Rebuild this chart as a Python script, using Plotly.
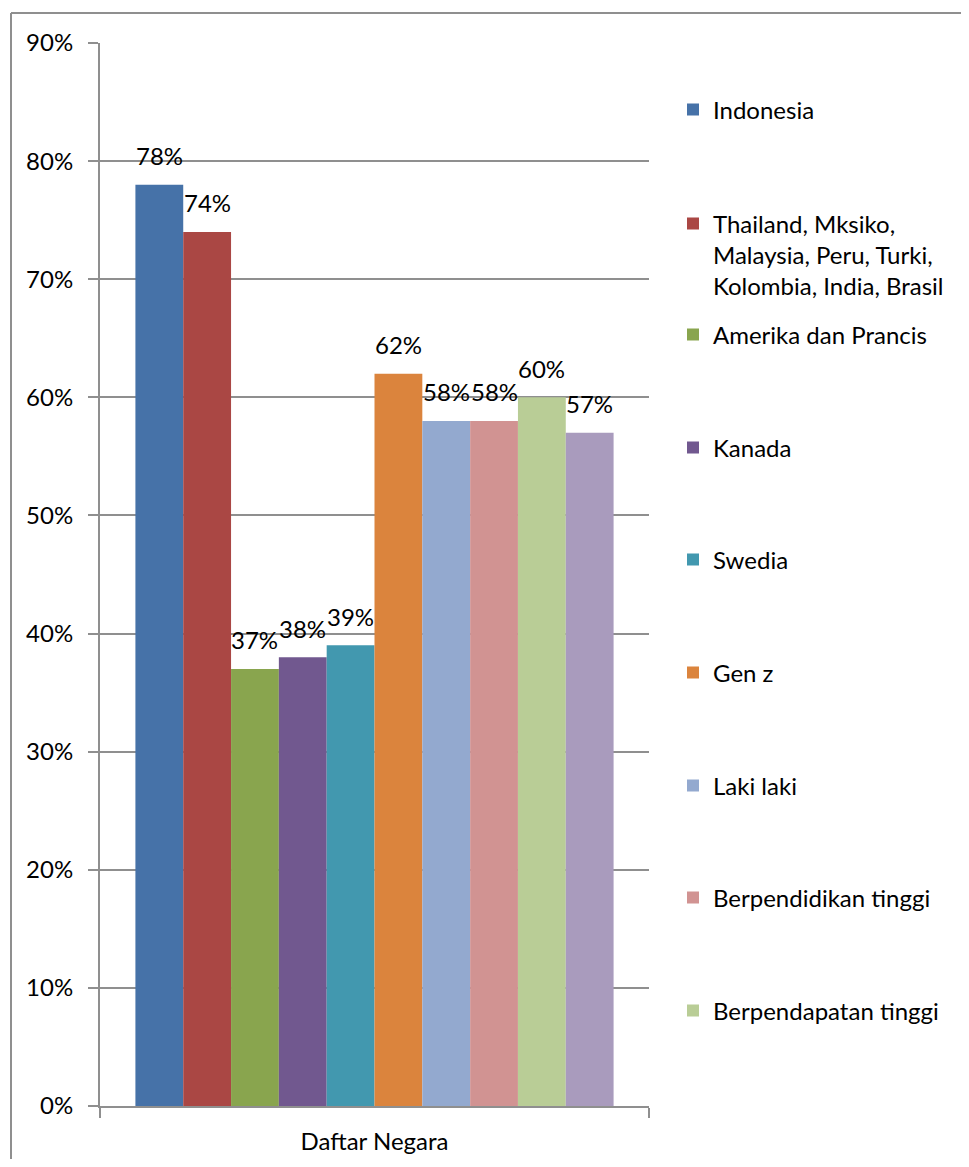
import plotly.graph_objects as go

# ---- data ----
category = ["Daftar Negara"]
series_names = [
    "Indonesia",
    "Thailand, Mksiko,<br>Malaysia, Peru, Turki,<br>Kolombia, India, Brasil",
    "Amerika dan Prancis",
    "Kanada",
    "Swedia",
    "Gen z",
    "Laki laki",
    "Berpendidikan tinggi",
    "Berpendapatan tinggi",
    "Perempuan",
]
values = [78, 74, 37, 38, 39, 62, 58, 58, 60, 57]
colors = ["#4672A8", "#AA4744", "#89A54E", "#71588F", "#4298AF",
          "#DB843D", "#93A9CF", "#D19392", "#B9CD96", "#A99BBD"]
y_ticks = [0, 10, 20, 30, 40, 50, 60, 70, 80, 90]
y_tick_labels = [f"{v}%" for v in y_ticks]

# ---- geometry (pixels, page coords; page body has an 8px margin) ----
OFF = 8
W, H = 969 - 2 * OFF, 1167 - 2 * OFF
L, R, T, B = 100 - OFF, 649 - OFF, 43 - OFF, 1106 - OFF
FONT = "Lato"
FS = 24
GRAY = "#8f8f8f"
BARGAP = 0.129

def px_y(p):  # page px -> paper
    return (B - (p - OFF)) / (B - T)

def px_x(p):
    return ((p - OFF) - L) / (R - L)

# legend centre positions (page px) for shown entries
legend_y_px = [110, 255, 335, 448, 560, 673, 786, 898, 1011]

fig = go.Figure()
n = len(values)
for i, (name, v, c) in enumerate(zip(series_names, values, colors)):
    lg = "legend" if i == 0 else f"legend{i+1}"
    fig.add_trace(go.Bar(
        x=category, y=[v], name=name, marker=dict(color=c, line=dict(width=0)),
        legend=lg, showlegend=i < len(legend_y_px),
    ))

# data labels
group_w = 1 - BARGAP
bw = group_w / n
annotations = []
for i, v in enumerate(values):
    xc = -group_w / 2 + (i + 0.5) * bw
    annotations.append(dict(
        x=xc, y=v, xref="x", yref="y", text=f"{v}%", showarrow=False,
        yanchor="middle", yshift=29, font=dict(family=FONT, size=FS, color="black"),
    ))

layout_legends = {}
for i, ypx in enumerate(legend_y_px):
    key = "legend" if i == 0 else f"legend{i+1}"
    layout_legends[key] = dict(
        x=px_x(673), xanchor="left", y=px_y(ypx), yanchor="middle",
        font=dict(family=FONT, size=FS, color="black"),
        bgcolor="rgba(0,0,0,0)", borderwidth=0,
        valign="top", itemclick=False,
    )

shapes = [
    dict(type="line", xref="paper", yref="paper", x0=px_x(11), x1=px_x(990),
         y0=px_y(13), y1=px_y(13), line=dict(color=GRAY, width=2)),
    dict(type="line", xref="paper", yref="paper", x0=px_x(11), x1=px_x(11),
         y0=px_y(13), y1=px_y(1190), line=dict(color=GRAY, width=2)),
]

fig.update_layout(
    width=W, height=H, showlegend=True,
    margin=dict(l=L, r=W - R, t=T, b=H - B, pad=0, autoexpand=False),
    paper_bgcolor="white", plot_bgcolor="white",
    barmode="group", bargap=BARGAP, bargroupgap=0,
    font=dict(family=FONT, size=FS, color="black"),
    annotations=annotations, shapes=shapes,
    **layout_legends,
)
fig.update_xaxes(
    type="category", tickson="boundaries", ticks="outside", ticklen=10,
    tickcolor=GRAY, tickwidth=2, showline=True, linecolor=GRAY, linewidth=2,
    showgrid=False, tickfont=dict(family=FONT, size=FS, color="black"),
    ticklabelstandoff=13, automargin=False,
)
fig.update_yaxes(
    range=[0, 90], tickvals=y_ticks, ticktext=y_tick_labels, ticks="outside",
    ticklen=10, tickcolor=GRAY, tickwidth=2, showline=True, linecolor=GRAY,
    linewidth=2, showgrid=True, gridcolor=GRAY, gridwidth=2, zeroline=False,
    tickfont=dict(family=FONT, size=FS, color="black"), ticklabelstandoff=10,
    automargin=False,
)

fig.write_html("out.html")
